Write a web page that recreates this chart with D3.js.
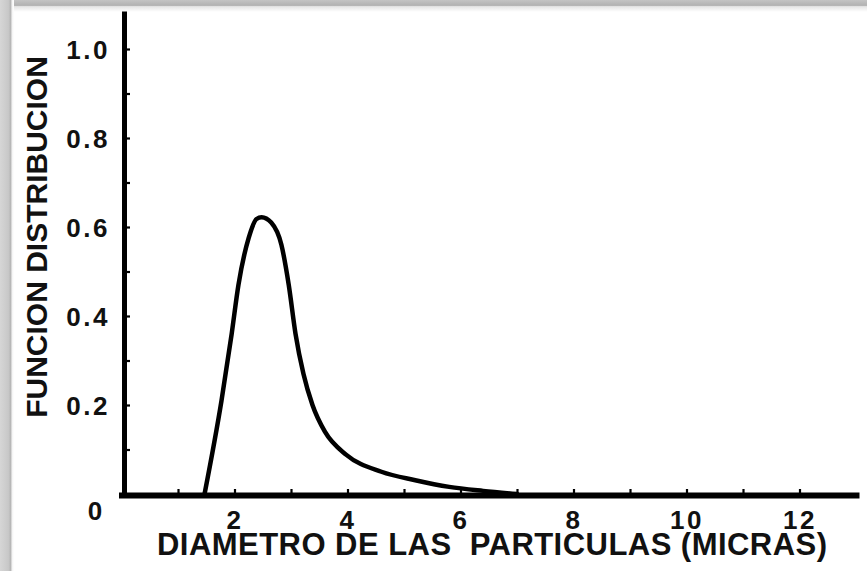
<!DOCTYPE html>
<html>
<head>
<meta charset="utf-8">
<script src="https://cdn.jsdelivr.net/npm/d3@7"></script>
<style>
  html, body { margin: 0; padding: 0; background: #fff; }
  svg { display: block; }
  text { font-family: "Liberation Sans", Arial, sans-serif; font-weight: bold; fill: #111; }
</style>
</head>
<body>
<script>
// Particle size distribution curve
const diameters = [1.47, 1.77, 1.95, 2.07, 2.25, 2.39, 2.48, 2.65, 2.83, 2.96, 3.08, 3.22, 3.38, 3.6, 3.98, 4.6, 5.2, 5.8, 6.4, 7.0];
const distribution = [0, 0.21, 0.36, 0.47, 0.575, 0.618, 0.622, 0.61, 0.56, 0.47, 0.36, 0.27, 0.2, 0.14, 0.088, 0.05, 0.031, 0.016, 0.007, 0];

const xTicks = [1, 2, 3, 4, 5, 6, 7, 8, 9, 10, 11, 12];
const xTickLabels = [2, 4, 6, 8, 10, 12];
const yTicks = [0.1, 0.2, 0.3, 0.4, 0.5, 0.6, 0.7, 0.8, 0.9, 1.0];
const yTickLabels = [0.2, 0.4, 0.6, 0.8, 1.0];
const originLabel = "0";
const xTitle = "DIAMETRO DE LAS  PARTICULAS (MICRAS)";
const yTitle = "FUNCION DISTRIBUCION";

const W = 867, H = 571;
const svg = d3.select("body").append("svg").attr("width", W).attr("height", H);

// Framed backdrop with a soft shadow along the top and left edges
const defs = svg.append("defs");
const gTop = defs.append("linearGradient").attr("id", "shadeTop").attr("x1", 0).attr("y1", 0).attr("x2", 0).attr("y2", 1);
gTop.append("stop").attr("offset", "0%").attr("stop-color", "#c4c4c4");
gTop.append("stop").attr("offset", "45%").attr("stop-color", "#b2b2b2");
gTop.append("stop").attr("offset", "55%").attr("stop-color", "#e6e6e6");
gTop.append("stop").attr("offset", "100%").attr("stop-color", "#ffffff");
const gLeft = defs.append("linearGradient").attr("id", "shadeLeft").attr("x1", 0).attr("y1", 0).attr("x2", 1).attr("y2", 0);
gLeft.append("stop").attr("offset", "0%").attr("stop-color", "#d6d6d6");
gLeft.append("stop").attr("offset", "60%").attr("stop-color", "#c8c8c8");
gLeft.append("stop").attr("offset", "78%").attr("stop-color", "#b4b4b4");
gLeft.append("stop").attr("offset", "85%").attr("stop-color", "#f2f2f2");
gLeft.append("stop").attr("offset", "100%").attr("stop-color", "#ffffff");

svg.append("rect").attr("width", W).attr("height", H).attr("fill", "#fff");
svg.append("rect").attr("x", 0).attr("y", 0).attr("width", W).attr("height", 12).attr("fill", "url(#shadeTop)");
svg.append("rect").attr("x", 0).attr("y", 0).attr("width", 14).attr("height", H).attr("fill", "url(#shadeLeft)");

// Scales
const x = d3.scaleLinear().domain([0, 13]).range([121.5, 856]);
const y = d3.scaleLinear().domain([0, 1.08]).range([494, 13.4]);

const tickFont = sel => sel
  .style("font-size", "26px")
  .style("letter-spacing", "2.5px")
  .style("font-family", "'Liberation Sans', Arial, sans-serif")
  .style("font-weight", "bold")
  .attr("fill", "#111");

// Y axis: ticks pointing inward, labels every 0.2
const yAxis = d3.axisLeft(y)
  .tickValues(yTicks)
  .tickSizeInner(-6)
  .tickSizeOuter(0)
  .tickPadding(14)
  .tickFormat(d => yTickLabels.some(v => Math.abs(v - d) < 1e-9) ? d3.format(".1f")(d) : "");
const gy = svg.append("g").attr("transform", "translate(124,0)").call(yAxis);
gy.select(".domain").attr("stroke", "#000").attr("stroke-width", 5).attr("stroke-linecap", "square");
gy.selectAll(".tick line").attr("stroke", "#000").attr("stroke-width", 2.2);
gy.selectAll(".tick text").attr("dy", "0.36em").call(tickFont);

// X axis: ticks pointing up, labels every 2
const xAxis = d3.axisBottom(x)
  .tickValues(xTicks)
  .tickSizeInner(-6)
  .tickSizeOuter(0)
  .tickPadding(16)
  .tickFormat(d => xTickLabels.includes(d) ? String(d) : "");
const gx = svg.append("g").attr("transform", "translate(0,495)").call(xAxis);
gx.select(".domain").attr("stroke", "#000").attr("stroke-width", 6).attr("stroke-linecap", "square");
gx.selectAll(".tick line").attr("stroke", "#000").attr("stroke-width", 2.2);
gx.selectAll(".tick text").attr("dy", "0.71em").call(tickFont);

// Origin label
svg.append("text")
  .attr("x", 95).attr("y", 520)
  .attr("text-anchor", "middle")
  .style("font-size", "26px")
  .text(originLabel);

// Distribution curve
const pts = diameters.map((d, i) => [d, distribution[i]]);
const line = d3.line()
  .x(d => x(d[0]))
  .y(d => y(d[1]))
  .curve(d3.curveMonotoneX);
svg.append("path")
  .datum(pts)
  .attr("d", line)
  .attr("fill", "none")
  .attr("stroke", "#000")
  .attr("stroke-width", 4.5)
  .attr("stroke-linejoin", "round")
  .attr("stroke-linecap", "round");

// Axis titles
svg.append("text")
  .attr("x", 157).attr("y", 555)
  .attr("textLength", 670)
  .attr("lengthAdjust", "spacing")
  .style("font-size", "31px")
  .style("white-space", "pre")
  .attr("xml:space", "preserve")
  .text(xTitle);

svg.append("text")
  .attr("transform", "translate(47,237) rotate(-90)")
  .attr("text-anchor", "middle")
  .style("font-size", "30px")
  .text(yTitle);
</script>
</body>
</html>
